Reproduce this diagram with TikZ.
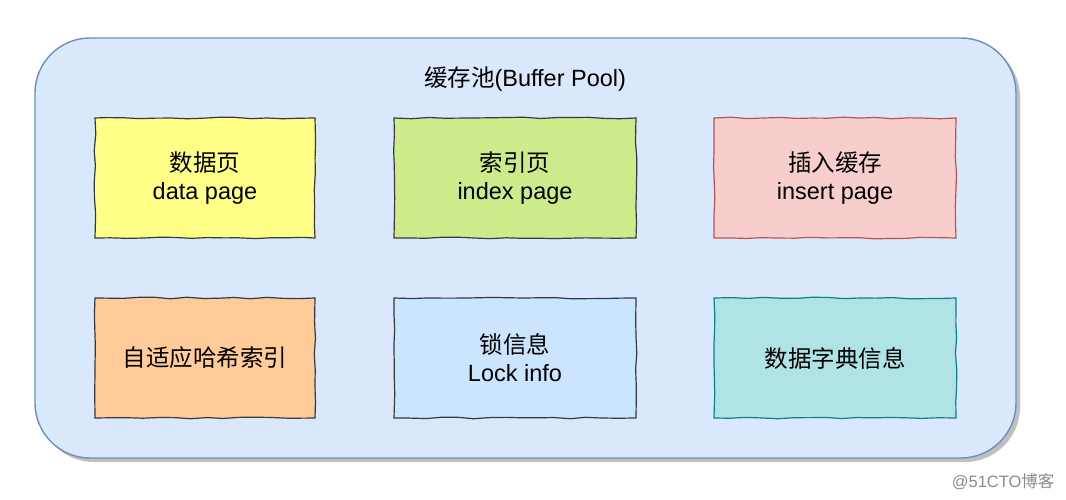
\documentclass[tikz,border=0pt]{standalone}
\usepackage{fontspec}
\setmainfont{Liberation Sans}
\newfontfamily\cjk{Noto Sans CJK SC}
\usetikzlibrary{decorations.pathmorphing}
\definecolor{poolfill}{HTML}{DAE8FC}
\definecolor{poolline}{HTML}{6C8EBF}
\definecolor{yfill}{HTML}{FFFF88}
\definecolor{gfill}{HTML}{CDEB8B}
\definecolor{pfill}{HTML}{F8CECC}
\definecolor{pline}{HTML}{B85450}
\definecolor{ofill}{HTML}{FFCC99}
\definecolor{bfill}{HTML}{CCE5FF}
\definecolor{tfill}{HTML}{B0E3E6}
\definecolor{tline}{HTML}{0E8088}
\definecolor{dline}{HTML}{36393D}
\tikzset{
  x=1pt, y=-1pt,
  wobble/.style={decorate, decoration={random steps, segment length=16pt, amplitude=0.8pt}},
  cell/.style={draw=dline, line width=1.2pt, minimum width=220pt, minimum height=120pt,
    align=center, font=\fontsize{23.5}{28}\selectfont, inner sep=0pt, wobble},
}
\newcommand{\zh}[1]{{\cjk #1}}
\begin{document}
\begin{tikzpicture}
\pgfmathsetseed{7}
\useasboundingbox (0,0) rectangle (1066,500);
\fill[white] (0,0) rectangle (1066,500);
% shadow
\fill[black!25, rounded corners=55pt] (39,42) rectangle (1020,462);
% pool
\fill[poolfill, rounded corners=55pt] (35,38) rectangle (1016,458);
\draw[poolline, line width=1.4pt, rounded corners=55pt] (35,38) rectangle (1016,458);
\node[font=\fontsize{23.5}{28}\selectfont] (title) at (525,79) {\zh{缓存池}(Buffer Pool)};
% cells
\node[cell, fill=yfill, minimum width=220pt] (c1) at (205,178) {\zh{数据页}\\data page};
\node[cell, fill=gfill, minimum width=242pt] (c2) at (515,178) {\zh{索引页}\\index page};
\node[cell, fill=pfill, draw=pline, minimum width=242pt] (c3) at (835,178) {\zh{插入缓存}\\insert page};
\node[cell, fill=ofill, minimum width=220pt] (c4) at (205,358) {\zh{自适应哈希索引}};
\node[cell, fill=bfill, minimum width=242pt] (c5) at (515,358) {\zh{锁信息}\\Lock info};
\node[cell, fill=tfill, draw=tline, minimum width=242pt] (c6) at (835,358) {\zh{数据字典信息}};
\node[text=black!45, font=\fontsize{16.5}{19}\selectfont, anchor=east] (wm) at (1058,482) {@51CTO\zh{博客}};
\end{tikzpicture}
\end{document}
